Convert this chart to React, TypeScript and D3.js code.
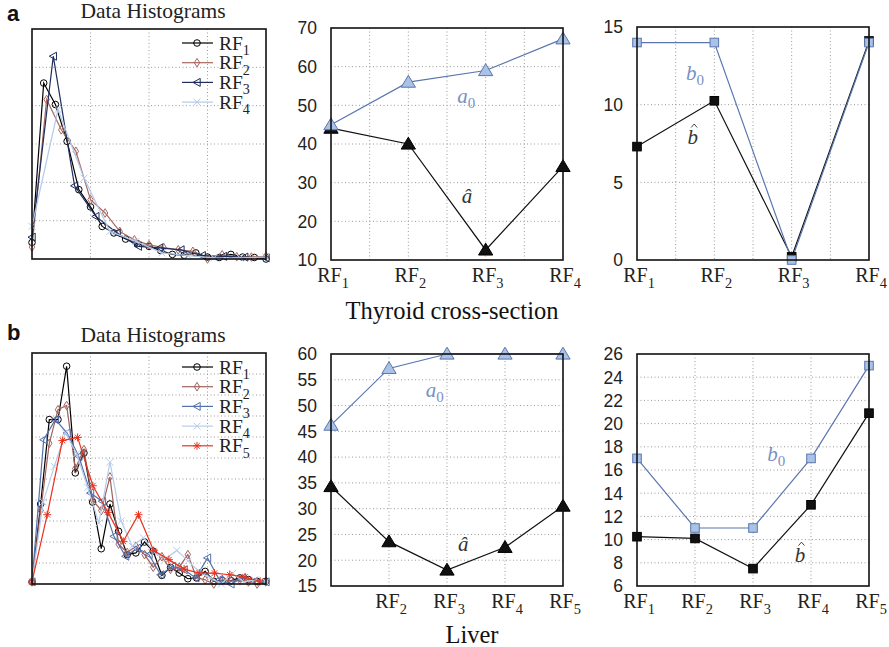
import React from "react";
import * as d3 from "d3";

// ---------- data ----------
// histogram values are in grid units (one dotted grid line = 1)
const thyroidHistRF1 = [0.43, 4.59, 4.03, 3.07, 1.81, 1.36, 0.85, 0.68, 0.52, 0.4, 0.33, 0.22, 0.12, 0.1, 0.16, 0.05, 0.04, 0.12, 0.05, 0.04, 0.0];
const thyroidHistRF2 = [0.31, 4.16, 3.37, 2.81, 1.55, 1.2, 0.72, 0.5, 0.37, 0.3, 0.24, 0.2, 0.0, 0.11, 0.06, 0.05, 0.07];
const thyroidHistRF3 = [0.57, 5.29, 1.91, 1.11, 0.68, 0.33, 0.29, 0.24, 0.09, 0.07, 0.05, 0.03];
const thyroidHistRF4 = [0.85, 3.9, 2.11, 0.72, 0.46, 0.16, 0.09, 0.03, 0.03, 0.05];
const thyroidHistBins = [5, 6.25, 9.09, 11.11];

const liverHistRF1 = [0.1, 3.81, 7.83, 7.83, 10.37, 5.29, 6.24, 3.9, 1.68, 3.81, 2.51, 1.4, 1.48, 2.0, 1.56, 0.41, 0.79, 0.52, 0.25, 0.29, 0.6, 0.13, 0.16, 0.16, 0.29, 0.21, 0.13, 0.13];
const liverHistRF2 = [0.1, 3.5, 6.7, 8.3, 8.5, 5.5, 6.4, 4.0, 3.5, 5.1, 1.9, 1.5, 1.8, 1.4, 0.8, 1.3, 0.7, 0.8, 1.4, 0.3, 0.2, 0.0, 0.2, 0.15, 0.2, 0.1, 0.0, 0.1];
const liverHistRF3 = [0.1, 6.87, 7.83, 7.19, 6.08, 4.33, 3.94, 2.27, 1.32, 1.71, 1.4, 0.44, 0.84, 0.68, 0.29, 1.24, 0.21, 0.0, 0.29, 0.13, 0.1];
const liverHistRF4 = [0.1, 3.9, 5.6, 7.2, 6.2, 4.6, 2.9, 5.8, 3.0, 1.8, 2.2, 1.5, 1.2, 1.6, 1.1, 0.6, 0.3, 0.0, 0.5, 0.1, 0.2, 0.1];
const liverHistRF5 = [0.1, 3.3, 6.83, 6.98, 4.68, 3.41, 2.03, 3.3, 1.59, 1.16, 0.71, 0.52, 0.52, 0.44, 0.33, 0.13];
const liverHistBins = [3.7, 3.7, 5, 4.76, 6.5];

const thyroidCats = [1, 2, 3, 4];
const thyroidA0 = [45, 56, 59, 67.2];
const thyroidAhat = [44.1, 40, 12.6, 34.2];
const thyroidB0 = [14, 14, 0, 14];
const thyroidBhat = [7.3, 10.25, 0.2, 14.1];

const liverCats = [1, 2, 3, 4, 5];
const liverA0 = [46.2, 57.2, 60, 60, 60];
const liverAhat = [34.3, 23.6, 18.1, 22.5, 30.5];
const liverB0 = [17, 11, 11, 17, 25];
const liverBhat = [10.25, 10.1, 7.5, 13, 20.9];

const thyroidATicks = [10, 20, 30, 40, 50, 60, 70];
const thyroidBTicks = [0, 5, 10, 15];
const liverATicks = [15, 20, 25, 30, 35, 40, 45, 50, 55, 60];
const liverBTicks = [6, 8, 10, 12, 14, 16, 18, 20, 22, 24, 26];

const SERIF = "'Liberation Serif', 'DejaVu Serif', serif";
const SANS = "'Liberation Sans', Arial, sans-serif";
const GRID = "#9a9a9a";
const A0_LINE = "#5b76ae";
const A0_FILL = "#a9c2e6";
const LABEL_BLUE = "#7a90c4";

const Marker = ({ kind, x, y, s, stroke, fill = "none", sw = 1 }: any) => {
  const p = { stroke, fill, strokeWidth: sw };
  switch (kind) {
    case "circle":
      return <circle cx={x} cy={y} r={s} {...p} />;
    case "diamond":
      return <path d={`M${x},${y - s * 1.2}L${x + s * 0.75},${y}L${x},${y + s * 1.2}L${x - s * 0.75},${y}Z`} {...p} />;
    case "left":
      return <path d={`M${x - s},${y}L${x + s * 0.8},${y - s}L${x + s * 0.8},${y + s}Z`} {...p} />;
    case "cross":
      return <path d={`M${x - s},${y - s}L${x + s},${y + s}M${x - s},${y + s}L${x + s},${y - s}`} {...p} fill="none" />;
    case "star":
      return (
        <path
          d={`M${x - s},${y}L${x + s},${y}M${x},${y - s}L${x},${y + s}M${x - s * 0.7},${y - s * 0.7}L${x + s * 0.7},${y + s * 0.7}M${x - s * 0.7},${y + s * 0.7}L${x + s * 0.7},${y - s * 0.7}`}
          {...p}
          fill="none"
        />
      );
    case "up":
      return <path d={`M${x},${y - s}L${x + s * 1.05},${y + s * 0.75}L${x - s * 1.05},${y + s * 0.75}Z`} {...p} />;
    case "square":
      return <rect x={x - s} y={y - s} width={s * 2} height={s * 2} {...p} />;
    default:
      return null;
  }
};

const RF = ({ x, y, n, size, anchor = "middle" }: any) => (
  <text x={x} y={y} fontFamily={SERIF} fontSize={size} textAnchor={anchor} fill="#222">
    RF
    <tspan fontSize={size * 0.72} dy={size * 0.28}>{n}</tspan>
  </text>
);

const HistPanel = ({ box, series, bins, yMax, title, styles }: any) => {
  const x = d3.scaleLinear().domain([0, 100]).range([box.x, box.x + box.w]);
  const y = d3.scaleLinear().domain([0, yMax]).range([box.y + box.h, box.y]);
  const line = d3.line<[number, number]>().x((d) => x(d[0])).y((d) => y(d[1]));
  return (
    <g>
      <text x={box.x + box.w / 2 + 4} y={box.y - 11} textAnchor="middle" fontFamily={SERIF} fontSize={21.5} fill="#222">
        {title}
      </text>
      {[25, 50, 75].map((t) => (
        <line key={t} x1={x(t)} x2={x(t)} y1={box.y} y2={box.y + box.h} stroke={GRID} strokeDasharray="1 2.5" />
      ))}
      {d3.range(1, yMax).map((t) => (
        <line key={t} x1={box.x} x2={box.x + box.w} y1={y(t)} y2={y(t)} stroke={GRID} strokeDasharray="1 2.5" />
      ))}
      {series.map((vals: number[], i: number) => {
        const pts = vals.map((v, j) => [j * bins[i], v] as [number, number]);
        const st = styles[i];
        return (
          <g key={i}>
            <path d={line(pts) || ""} fill="none" stroke={st.color} strokeWidth={1.2} />
            {pts.map((p, j) => (
              <Marker key={j} kind={st.kind} x={x(p[0])} y={y(p[1])} s={st.s} stroke={st.color} sw={1} />
            ))}
          </g>
        );
      })}
      <rect x={box.x} y={box.y} width={box.w} height={box.h} fill="none" stroke="#111" strokeWidth={1.6} />
      {styles.map((st: any, i: number) => {
        const ly = box.y + 14 + i * 19.7;
        return (
          <g key={i}>
            <line x1={box.x + 150} x2={box.x + 181} y1={ly} y2={ly} stroke={st.color} strokeWidth={1.2} />
            <Marker kind={st.kind} x={box.x + 165} y={ly} s={st.s} stroke={st.color} />
            <RF x={box.x + 187} y={ly + 6.5} n={i + 1} size={19.5} anchor="start" />
          </g>
        );
      })}
    </g>
  );
};

const LinePanel = ({ box, cats, ticks, gridX, labelCats, s0, s1, kind, size, notes }: any) => {
  const x = d3.scaleLinear().domain([cats[0], cats[cats.length - 1]]).range([box.x, box.x + box.w]);
  const y = d3.scaleLinear().domain([ticks[0], ticks[ticks.length - 1]]).range([box.y + box.h, box.y]);
  const line = d3.line<number>().x((_, i) => x(cats[i])).y((d) => y(d));
  return (
    <g>
      {gridX.map((t: number) => (
        <line key={t} x1={x(t)} x2={x(t)} y1={box.y} y2={box.y + box.h} stroke={GRID} strokeDasharray="1 2.5" />
      ))}
      {ticks.slice(1, -1).map((t: number) => (
        <line key={t} x1={box.x} x2={box.x + box.w} y1={y(t)} y2={y(t)} stroke={GRID} strokeDasharray="1 2.5" />
      ))}
      <path d={line(s1) || ""} fill="none" stroke="#111" strokeWidth={1.2} />
      <path d={line(s0) || ""} fill="none" stroke={A0_LINE} strokeWidth={1.2} />
      {s1.map((v: number, i: number) => (
        <Marker key={"h" + i} kind={kind} x={x(cats[i])} y={y(v)} s={size} stroke="#000" fill="#111" />
      ))}
      {s0.map((v: number, i: number) => (
        <Marker key={"o" + i} kind={kind} x={x(cats[i])} y={y(v)} s={size} stroke={A0_LINE} fill={A0_FILL} />
      ))}
      <rect x={box.x} y={box.y} width={box.w} height={box.h} fill="none" stroke="#111" strokeWidth={1.6} />
      {ticks.map((t: number) => (
        <text key={t} x={box.x - 14} y={y(t)} dy="0.36em" textAnchor="end" fontFamily={SANS} fontSize={17.5} fill="#222">
          {t}
        </text>
      ))}
      {labelCats.map((c: number) => (
        <RF key={c} x={x(c) + 2} y={box.y + box.h + 22} n={c} size={20} />
      ))}
      {notes.map((n: any, i: number) => {
        const tx = x(n.x);
        const ty = y(n.y);
        return (
          <g key={i}>
            <text x={tx} y={ty} textAnchor="middle" fontFamily={SERIF} fontStyle="italic" fontSize={21} fill={n.color}>
              {n.t}
              {n.sub ? <tspan fontSize={15} dy={5} fontStyle="normal">{n.sub}</tspan> : null}
            </text>
            {n.hat ? (
              <path
                d={`M${tx - 1.5},${ty - 16}L${tx + 1.5},${ty - 19.5}L${tx + 4.5},${ty - 16}`}
                fill="none"
                stroke={n.color}
                strokeWidth={0.9}
              />
            ) : null}
          </g>
        );
      })}
    </g>
  );
};

const thyroidStyles = [
  { color: "#000000", kind: "circle", s: 3.3 },
  { color: "#a8685f", kind: "diamond", s: 3.6 },
  { color: "#1e2d5c", kind: "left", s: 4 },
  { color: "#b3c9ea", kind: "cross", s: 3.5 },
];
const liverStyles = [
  { color: "#000000", kind: "circle", s: 3.3 },
  { color: "#a0625c", kind: "diamond", s: 3.6 },
  { color: "#5570aa", kind: "left", s: 4 },
  { color: "#b8cdec", kind: "cross", s: 3.5 },
  { color: "#e8321e", kind: "star", s: 4 },
];

export default function App() {
  return (
    <div style={{ position: "absolute", left: 0, top: 0 }}>
      <svg width={889} height={647} style={{ display: "block", background: "#fff" }}>
        <text x={7} y={21} fontFamily={SANS} fontWeight="bold" fontSize={22} fill="#111">a</text>
        <text x={7} y={340} fontFamily={SANS} fontWeight="bold" fontSize={22} fill="#111">b</text>

        <HistPanel
          box={{ x: 32, y: 29, w: 234, h: 230 }}
          series={[thyroidHistRF1, thyroidHistRF2, thyroidHistRF3, thyroidHistRF4]}
          bins={thyroidHistBins}
          yMax={6}
          title="Data Histograms"
          styles={thyroidStyles}
        />
        <LinePanel
          box={{ x: 331, y: 28, w: 232, h: 232 }}
          cats={thyroidCats}
          ticks={thyroidATicks}
          gridX={[1.5, 2, 2.5, 3, 3.5]}
          labelCats={thyroidCats}
          s0={thyroidA0}
          s1={thyroidAhat}
          kind="up"
          size={6.8}
          notes={[
            { x: 2.75, y: 50.6, t: "a", sub: "0", color: LABEL_BLUE },
            { x: 2.76, y: 24.8, t: "â", color: "#333" },
          ]}
        />
        <LinePanel
          box={{ x: 637, y: 27, w: 232, h: 233 }}
          cats={thyroidCats}
          ticks={thyroidBTicks}
          gridX={[1.5, 2, 2.5, 3, 3.5]}
          labelCats={thyroidCats}
          s0={thyroidB0}
          s1={thyroidBhat}
          kind="square"
          size={4.3}
          notes={[
            { x: 1.75, y: 11.6, t: "b", sub: "0", color: LABEL_BLUE },
            { x: 1.72, y: 7.5, t: "b", hat: true, color: "#333" },
          ]}
        />
        <text x={452} y={319} textAnchor="middle" fontFamily={SERIF} fontSize={24.5} fill="#111">
          Thyroid cross-section
        </text>

        <HistPanel
          box={{ x: 32, y: 353, w: 234, h: 231 }}
          series={[liverHistRF1, liverHistRF2, liverHistRF3, liverHistRF4, liverHistRF5]}
          bins={liverHistBins}
          yMax={11}
          title="Data Histograms"
          styles={liverStyles}
        />
        <LinePanel
          box={{ x: 331, y: 354, w: 232, h: 232 }}
          cats={liverCats}
          ticks={liverATicks}
          gridX={[2, 3, 4]}
          labelCats={[2, 3, 4, 5]}
          s0={liverA0}
          s1={liverAhat}
          kind="up"
          size={6.8}
          notes={[
            { x: 2.79, y: 51.7, t: "a", sub: "0", color: LABEL_BLUE },
            { x: 3.28, y: 21.8, t: "â", color: "#333" },
          ]}
        />
        <LinePanel
          box={{ x: 637, y: 354, w: 232, h: 232 }}
          cats={liverCats}
          ticks={liverBTicks}
          gridX={[2, 3, 4]}
          labelCats={liverCats}
          s0={liverB0}
          s1={liverBhat}
          kind="square"
          size={4.3}
          notes={[
            { x: 3.4, y: 16.8, t: "b", sub: "0", color: LABEL_BLUE },
            { x: 3.81, y: 8.1, t: "b", hat: true, color: "#333" },
          ]}
        />
        <text x={472} y={643} textAnchor="middle" fontFamily={SERIF} fontSize={24.5} fill="#111">
          Liver
        </text>
      </svg>
    </div>
  );
}
